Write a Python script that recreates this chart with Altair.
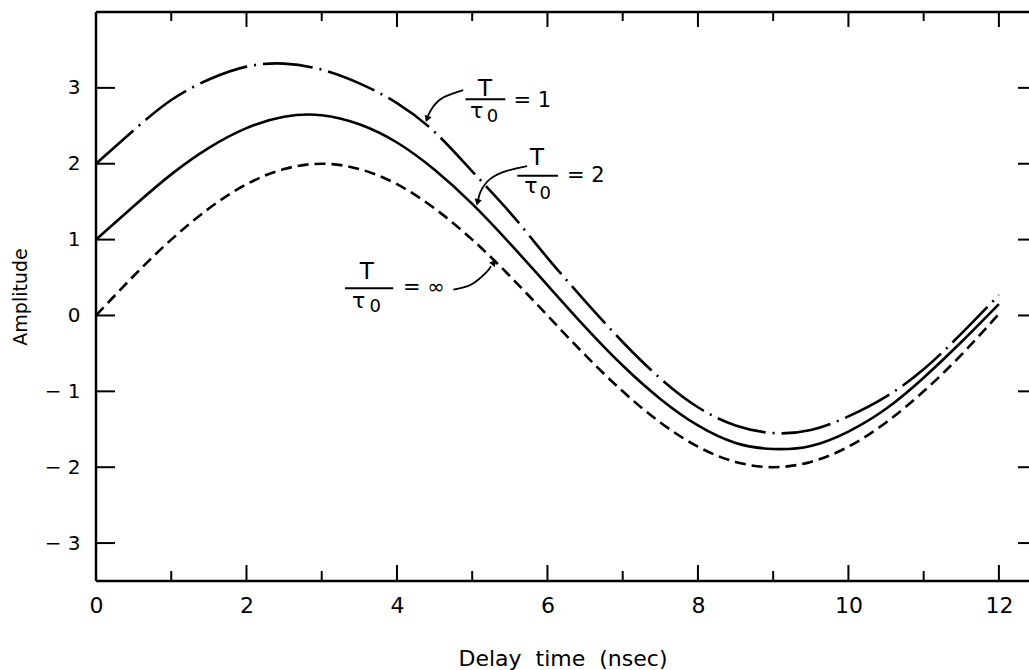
import altair as alt
import pandas as pd

# ---- data ----
time_ns = [0.0, 0.5, 1.0, 1.5, 2.0, 2.5, 3.0, 3.5, 4.0, 4.5, 5.0, 5.5, 6.0,
           6.5, 7.0, 7.5, 8.0, 8.5, 9.0, 9.5, 10.0, 10.5, 11.0, 11.5, 12.0]
amp_T1 = [2.00, 2.44, 2.84, 3.11, 3.28, 3.32, 3.24, 3.06, 2.80, 2.42, 1.90, 1.36, 0.76,
          0.19, -0.35, -0.83, -1.21, -1.45, -1.55, -1.51, -1.33, -1.07, -0.71, -0.24, 0.27]
amp_T2 = [1.00, 1.44, 1.86, 2.21, 2.47, 2.62, 2.64, 2.52, 2.28, 1.92, 1.47, 0.95, 0.40,
          -0.15, -0.66, -1.10, -1.45, -1.68, -1.76, -1.72, -1.53, -1.23, -0.82, -0.35, 0.15]
amp_Tinf = [0.00, 0.52, 1.00, 1.41, 1.73, 1.93, 2.00, 1.93, 1.73, 1.41, 1.00, 0.52, 0.00,
            -0.52, -1.00, -1.41, -1.73, -1.93, -2.00, -1.93, -1.73, -1.41, -1.00, -0.52, 0.02]

x_major = [0, 2, 4, 6, 8, 10, 12]
x_minor = [1, 3, 5, 7, 9, 11]
y_ticks = [-3, -2, -1, 0, 1, 2, 3]

# annotation anchors (data coordinates)
num_t = [5.17, 5.86, 3.60]
num_a = [2.99, 2.07, 0.57]
bar_t1 = [4.91, 5.60, 3.31]
bar_t2 = [5.44, 6.14, 3.95]
bar_a = [2.85, 1.84, 0.36]
tau_t = [5.06, 5.78, 3.49]
tau_a = [2.70, 1.70, 0.19]
sub_t = [5.27, 5.97, 3.71]
sub_a = [2.62, 1.60, 0.11]
eq_text = ["= 1", "= 2", "= \u221e"]
eq_t = [5.55, 6.26, 4.08]
eq_a = [2.83, 1.84, 0.36]

arrow_id = [1, 1, 1, 1, 2, 2, 2, 2, 2, 3, 3, 3, 3, 3]
arrow_i = [0, 1, 2, 3, 0, 1, 2, 3, 4, 0, 1, 2, 3, 4]
arrow_t = [4.88, 4.61, 4.48, 4.41, 5.73, 5.47, 5.24, 5.11, 5.08, 4.75, 4.95, 5.08, 5.19, 5.25]
arrow_a = [2.97, 2.87, 2.75, 2.63, 1.97, 1.91, 1.80, 1.63, 1.52, 0.34, 0.39, 0.47, 0.57, 0.65]
head_t = [4.40, 5.07, 5.29]
head_a = [2.59, 1.49, 0.70]
head_angle = [200, 195, 40]

# ---- layout ----
W, H = 933, 569
FONT = "DejaVu Sans"
xs = alt.Scale(domain=[0, 12.4], nice=False, zero=False)
ys = alt.Scale(domain=[-3.5, 4.0], nice=False, zero=False)
x_axis = alt.Axis(values=x_major, ticks=False, domain=False, grid=False,
                  labelFontSize=22, labelPadding=14, labelFont=FONT, labelColor="black",
                  labelFlush=False, title="Delay\u00a0 time\u00a0 (nsec)", titleFont=FONT,
                  titleFontSize=22, titleFontWeight="normal", titleColor="black",
                  titlePadding=32)
y_axis = alt.Axis(values=y_ticks, ticks=False, domain=False, grid=False,
                  labelFontSize=20, labelPadding=16, labelFont=FONT, labelColor="black",
                  labelExpr="datum.value < 0 ? '\u2212 ' + abs(datum.value) : '' + datum.value",
                  title="Amplitude", titleFont=FONT, titleFontSize=19,
                  titleFontWeight="normal", titleColor="black", titlePadding=14)


def X(field="t"):
    return alt.X(field, type="quantitative", scale=xs, axis=x_axis)


def Y(field="amp"):
    return alt.Y(field, type="quantitative", scale=ys, axis=y_axis)


def curve(values, dash):
    df = pd.DataFrame({"t": time_ns, "amp": values})
    kw = dict(color="black", strokeWidth=2.6, interpolate="natural")
    if dash:
        kw["strokeDash"] = dash
    return alt.Chart(df).mark_line(**kw).encode(x=X(), y=Y())


c1 = curve(amp_T1, [50, 7, 2, 7])
c2 = curve(amp_T2, None)
c3 = curve(amp_Tinf, [11, 6])

one = pd.DataFrame({"a": [0]})
border_left = alt.Chart(one).mark_rule(color="black", strokeWidth=2.5).encode(
    x=alt.value(0), y=alt.value(0), y2=alt.value(H))
border_top = alt.Chart(one).mark_rule(color="black", strokeWidth=2.5).encode(
    x=alt.value(0), x2=alt.value(W), y=alt.value(0))
border_bottom = alt.Chart(one).mark_rule(color="black", strokeWidth=2.5).encode(
    x=alt.value(0), x2=alt.value(W), y=alt.value(H))

dmaj = pd.DataFrame({"t": x_major})
dmin = pd.DataFrame({"t": x_minor})
dy = pd.DataFrame({"amp": y_ticks})
tick_kw = dict(color="black", strokeWidth=2)
ticks = [
    alt.Chart(dmaj).mark_rule(**tick_kw).encode(x=X(), y=alt.value(H), y2=alt.value(H - 16)),
    alt.Chart(dmin).mark_rule(**tick_kw).encode(x=X(), y=alt.value(H), y2=alt.value(H - 10)),
    alt.Chart(dmaj).mark_rule(**tick_kw).encode(x=X(), y=alt.value(0), y2=alt.value(15)),
    alt.Chart(dmin).mark_rule(**tick_kw).encode(x=X(), y=alt.value(0), y2=alt.value(9)),
    alt.Chart(dy).mark_rule(**tick_kw).encode(y=Y(), x=alt.value(0), x2=alt.value(19)),
    alt.Chart(dy).mark_rule(**tick_kw).encode(y=Y(), x=alt.value(W - 11), x2=alt.value(W)),
]

# annotations
txt_rows = []
for i in range(3):
    txt_rows.append({"t": num_t[i], "amp": num_a[i], "txt": "T", "fs": 23})
    txt_rows.append({"t": tau_t[i], "amp": tau_a[i], "txt": "\u03c4", "fs": 22})
    txt_rows.append({"t": sub_t[i], "amp": sub_a[i], "txt": "0", "fs": 18})
dtxt = pd.DataFrame(txt_rows)
frac_text = alt.Chart(dtxt).mark_text(font=FONT, color="black", align="center",
                                      baseline="middle").encode(
    x=X(), y=Y(), text="txt:N", size=alt.Size("fs:Q", scale=None, legend=None))

deq = pd.DataFrame({"t": eq_t, "amp": eq_a, "txt": eq_text})
eq_layer = alt.Chart(deq).mark_text(font=FONT, color="black", align="left",
                                    baseline="middle", fontSize=21).encode(
    x=X(), y=Y(), text="txt:N")

dbar = pd.DataFrame({"t": bar_t1, "t2": bar_t2, "amp": bar_a})
bars = alt.Chart(dbar).mark_rule(color="black", strokeWidth=2).encode(
    x=X(), x2=alt.X2("t2"), y=Y())

darr = pd.DataFrame({"id": arrow_id, "i": arrow_i, "t": arrow_t, "amp": arrow_a})
arrows = alt.Chart(darr).mark_line(color="black", strokeWidth=1.8, interpolate="natural").encode(
    x=X(), y=Y(), detail="id:N", order="i:Q")

dhead = pd.DataFrame({"t": head_t, "amp": head_a, "ang": head_angle})
heads = alt.Chart(dhead).mark_point(shape="triangle-up", filled=True, color="black",
                                    size=55, opacity=1).encode(
    x=X(), y=Y(), angle=alt.Angle("ang:Q", scale=None))

chart = alt.layer(
    c1, c2, c3, border_left, border_top, border_bottom, *ticks,
    frac_text, eq_layer, bars, arrows, heads
).properties(
    width=W, height=H,
    autosize=alt.AutoSizeParams(type="none"),
    padding={"left": 96, "top": 12, "right": 0, "bottom": 89},
    background="white",
).configure_view(stroke=None)

chart.save("out.html", embed_options={"renderer": "svg", "actions": False})
